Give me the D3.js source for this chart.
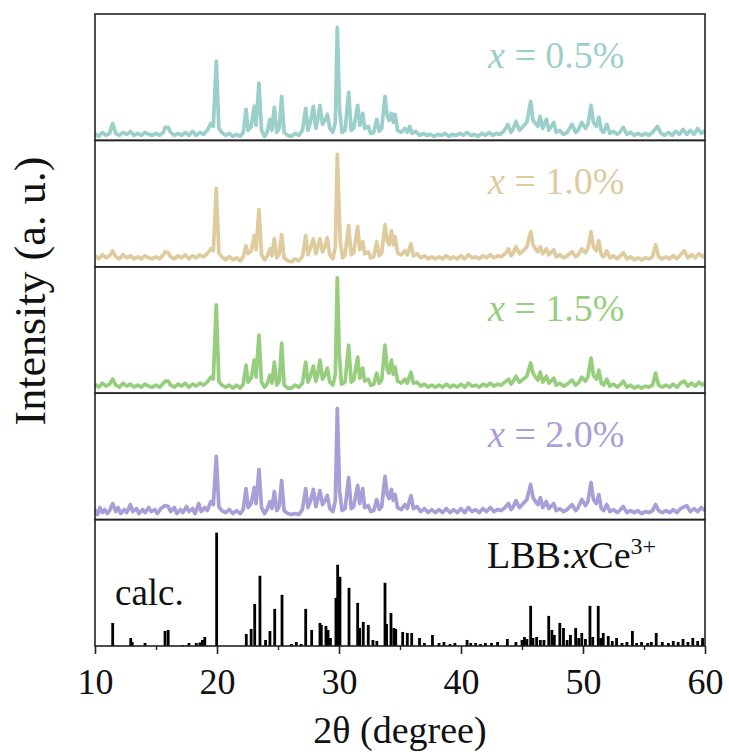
<!DOCTYPE html>
<html><head><meta charset="utf-8">
<script src="https://cdn.jsdelivr.net/npm/d3@7/dist/d3.min.js"></script>
<style>body{margin:0;background:#fff}svg{display:block}</style>
</head><body><div id="chart"></div>
<script>
// ---- DATA (2θ in degrees, intensity in a.u.) ----
const xTicks = [10, 20, 30, 40, 50, 60];
const xMinorTicks = [15, 25, 35, 45, 55];
const seriesLabels = ["0.5%", "1.0%", "1.5%", "2.0%"];
const seriesColors = ["#9bcfca", "#decb9e", "#97ce7e", "#aa9ed8"];

const xrd05 = [[10,7],[10.3,4],[10.6,8],[10.9,5],[11.2,7],[11.45,17],[11.7,7],[12,5],[12.3,8],[12.6,6],[12.9,9],[13.2,5],[13.5,7],[13.8,5],[14.1,8],[14.4,6],[14.7,5],[15.0,7],[15.3,5],[15.6,8],[15.75,13],[16.0,13],[16.2,8],[16.5,5],[16.8,7],[17.1,5],[17.4,8],[17.7,5],[18.0,9],[18.3,5],[18.6,8],[18.9,6],[19.2,10],[19.5,17],[19.7,14],[19.94,79],[20.15,12],[20.4,8],[20.7,5],[21.0,7],[21.3,4],[21.6,6],[21.9,4],[22.15,8],[22.38,31],[22.55,10],[22.8,14],[23.06,34],[23.2,15],[23.44,57],[23.65,10],[23.9,4],[24.1,8],[24.34,21],[24.5,10],[24.7,33],[24.9,8],[25.1,12],[25.3,44],[25.5,8],[25.8,5],[26.1,4],[26.4,7],[26.7,5],[27.0,10],[27.27,32],[27.45,10],[27.65,18],[27.9,34],[28.1,12],[28.25,20],[28.44,35],[28.65,16],[28.85,20],[29.04,26],[29.25,12],[29.5,8],[29.7,18],[29.86,113],[30.05,30],[30.25,8],[30.5,10],[30.79,48],[31.0,10],[31.2,12],[31.53,35],[31.7,15],[31.94,27],[32.1,12],[32.4,14],[32.6,7],[32.85,8],[33.09,21],[33.3,9],[33.5,12],[33.77,44],[33.95,25],[34.1,20],[34.3,27],[34.45,18],[34.6,26],[34.8,10],[35.1,8],[35.4,12],[35.6,8],[35.8,14],[36.0,7],[36.3,9],[36.6,5],[36.9,7],[37.2,5],[37.5,6],[37.8,4],[38.1,6],[38.4,5],[38.7,7],[39.0,4],[39.3,6],[39.6,5],[39.9,7],[40.2,5],[40.5,8],[40.8,5],[41.1,6],[41.4,4],[41.7,7],[42.0,5],[42.3,8],[42.6,5],[42.9,7],[43.2,6],[43.5,9],[43.85,16],[44.1,8],[44.3,12],[44.5,19],[44.8,10],[45.1,14],[45.4,18],[45.71,39],[45.9,20],[46.1,17],[46.3,14],[46.48,24],[46.7,12],[47.0,21],[47.2,10],[47.6,18],[47.8,8],[48.1,10],[48.4,6],[48.7,8],[49.1,16],[49.4,8],[49.6,10],[49.9,18],[50.2,12],[50.4,16],[50.66,35],[50.85,18],[51.1,14],[51.3,23],[51.5,10],[51.7,8],[51.95,16],[52.2,7],[52.5,9],[52.8,6],[53.0,8],[53.3,13],[53.6,6],[53.9,8],[54.2,5],[54.5,7],[54.8,5],[55.1,7],[55.4,5],[55.7,8],[56.1,14],[56.4,7],[56.7,5],[57.0,8],[57.3,5],[57.6,9],[57.9,6],[58.2,11],[58.5,6],[58.8,10],[59.1,6],[59.4,12],[59.7,7],[60,10]];

const xrd10 = [[10,11],[10.3,8],[10.6,12],[10.9,9],[11.2,11],[11.45,16],[11.7,10],[12,8],[12.3,12],[12.6,9],[12.9,11],[13.2,8],[13.5,10],[13.8,8],[14.1,11],[14.4,9],[14.7,8],[15.0,10],[15.3,8],[15.6,12],[15.75,15],[16.0,14],[16.2,10],[16.5,8],[16.8,11],[17.1,9],[17.4,12],[17.7,8],[18.0,11],[18.3,9],[18.6,12],[18.9,10],[19.2,13],[19.5,18],[19.7,16],[19.94,78],[20.15,14],[20.4,10],[20.7,7],[21.0,10],[21.3,7],[21.6,9],[21.9,6],[22.15,10],[22.38,21],[22.55,13],[22.8,16],[23.06,31],[23.2,17],[23.44,57],[23.65,12],[23.9,7],[24.1,10],[24.34,18],[24.5,11],[24.7,28],[24.9,9],[25.1,13],[25.3,32],[25.5,9],[25.8,6],[26.1,5],[26.4,8],[26.7,6],[27.0,10],[27.27,31],[27.45,12],[27.65,18],[27.9,28],[28.1,13],[28.25,19],[28.44,28],[28.65,15],[28.85,20],[29.04,29],[29.25,12],[29.5,8],[29.7,20],[29.86,112],[29.98,68],[30.1,25],[30.3,9],[30.5,12],[30.79,41],[31.0,12],[31.2,14],[31.53,40],[31.7,17],[31.94,25],[32.1,13],[32.4,15],[32.6,9],[32.85,10],[33.09,25],[33.3,11],[33.5,14],[33.77,42],[33.95,26],[34.1,22],[34.3,36],[34.45,22],[34.6,30],[34.8,14],[35.1,12],[35.4,16],[35.6,12],[35.9,23],[36.1,11],[36.4,13],[36.7,9],[37.0,11],[37.3,8],[37.6,10],[37.9,8],[38.2,10],[38.5,8],[38.8,11],[39.1,8],[39.4,10],[39.7,8],[40.0,11],[40.3,8],[40.6,12],[40.9,9],[41.2,10],[41.5,8],[41.8,11],[42.1,9],[42.4,12],[42.7,9],[43.0,11],[43.3,10],[43.6,13],[43.9,18],[44.1,11],[44.3,14],[44.5,20],[44.8,13],[45.1,16],[45.4,20],[45.71,35],[45.9,22],[46.1,18],[46.3,15],[46.5,20],[46.7,13],[47.0,18],[47.2,12],[47.6,17],[47.8,10],[48.1,12],[48.4,9],[48.7,11],[49.1,15],[49.4,10],[49.6,12],[49.9,18],[50.2,14],[50.4,18],[50.66,35],[50.85,20],[51.1,16],[51.3,26],[51.5,12],[51.7,10],[51.95,16],[52.2,9],[52.5,11],[52.8,8],[53.0,10],[53.3,14],[53.6,8],[53.9,10],[54.2,7],[54.5,9],[54.8,7],[55.1,9],[55.4,8],[55.7,10],[55.95,22],[56.2,10],[56.5,8],[56.8,10],[57.1,8],[57.4,11],[57.7,8],[58.0,12],[58.3,16],[58.6,9],[58.9,12],[59.2,9],[59.5,13],[59.8,10],[60,12]];

const xrd15 = [[10,9],[10.3,6],[10.6,10],[10.9,7],[11.2,9],[11.45,14],[11.7,8],[12,6],[12.3,10],[12.6,7],[12.9,9],[13.2,6],[13.5,8],[13.8,6],[14.1,9],[14.4,7],[14.7,6],[15.0,8],[15.3,6],[15.6,10],[15.75,12],[16.0,12],[16.2,8],[16.5,6],[16.8,9],[17.1,7],[17.4,10],[17.7,6],[18.0,9],[18.3,7],[18.6,10],[18.9,8],[19.2,11],[19.5,16],[19.7,14],[19.94,88],[20.15,12],[20.4,8],[20.7,6],[21.0,8],[21.3,5],[21.6,8],[21.9,5],[22.15,9],[22.38,28],[22.55,11],[22.8,15],[23.06,33],[23.2,16],[23.44,58],[23.65,11],[23.9,6],[24.1,9],[24.34,18],[24.5,10],[24.7,31],[24.9,8],[25.1,12],[25.3,50],[25.5,8],[25.8,5],[26.1,5],[26.4,8],[26.7,6],[27.0,10],[27.27,31],[27.45,11],[27.65,17],[27.9,27],[28.1,12],[28.25,18],[28.44,33],[28.65,14],[28.85,18],[29.04,25],[29.25,11],[29.5,8],[29.7,19],[29.86,115],[30.02,40],[30.2,9],[30.5,11],[30.79,48],[31.0,11],[31.2,13],[31.53,36],[31.7,15],[31.94,25],[32.1,12],[32.4,14],[32.6,8],[32.85,9],[33.09,20],[33.3,10],[33.5,13],[33.77,48],[33.95,24],[34.1,20],[34.3,33],[34.45,19],[34.6,26],[34.8,12],[35.1,10],[35.4,14],[35.6,10],[35.9,21],[36.1,10],[36.4,11],[36.7,7],[37.0,9],[37.3,6],[37.6,8],[37.9,6],[38.2,8],[38.5,6],[38.8,9],[39.1,6],[39.4,8],[39.7,6],[40.0,9],[40.3,6],[40.6,10],[40.9,7],[41.2,8],[41.5,6],[41.8,9],[42.1,7],[42.4,10],[42.7,7],[43.0,9],[43.3,8],[43.6,11],[43.9,14],[44.1,9],[44.3,12],[44.5,17],[44.8,11],[45.1,14],[45.4,17],[45.71,30],[45.9,20],[46.1,16],[46.3,13],[46.5,21],[46.7,11],[47.0,17],[47.2,10],[47.6,15],[47.8,8],[48.1,10],[48.4,7],[48.7,9],[49.1,13],[49.4,8],[49.6,10],[49.9,16],[50.2,12],[50.4,16],[50.66,35],[50.85,18],[51.1,14],[51.3,23],[51.5,10],[51.7,8],[51.95,14],[52.2,7],[52.5,9],[52.8,6],[53.0,8],[53.3,12],[53.6,6],[53.9,8],[54.2,5],[54.5,7],[54.8,5],[55.1,7],[55.4,6],[55.7,8],[55.95,20],[56.2,8],[56.5,6],[56.8,8],[57.1,6],[57.4,9],[57.7,6],[58.0,10],[58.3,12],[58.6,7],[58.9,10],[59.2,7],[59.5,11],[59.8,8],[60,10]];

const xrd20 = [[10,10],[10.2,5],[10.4,12],[10.6,7],[10.8,10],[11.0,6],[11.2,9],[11.45,16],[11.7,8],[11.9,12],[12.1,6],[12.4,10],[12.6,7],[12.9,15],[13.1,8],[13.4,11],[13.6,6],[13.9,10],[14.1,7],[14.4,12],[14.6,8],[14.9,10],[15.1,6],[15.4,11],[15.75,14],[16.0,13],[16.2,8],[16.5,12],[16.7,6],[17.0,10],[17.2,7],[17.5,13],[17.7,8],[18.0,11],[18.2,6],[18.5,16],[18.7,8],[19.0,12],[19.2,9],[19.5,18],[19.7,15],[19.94,63],[20.15,13],[20.4,9],[20.7,7],[21.0,10],[21.3,6],[21.6,9],[21.9,6],[22.15,10],[22.38,31],[22.55,12],[22.8,16],[23.06,32],[23.2,16],[23.44,50],[23.65,12],[23.9,6],[24.1,10],[24.34,18],[24.5,11],[24.7,28],[24.9,9],[25.1,13],[25.3,39],[25.5,9],[25.8,6],[26.1,5],[26.4,6],[26.7,5],[27.0,10],[27.27,31],[27.45,12],[27.65,18],[27.9,30],[28.1,13],[28.25,19],[28.44,29],[28.65,15],[28.85,19],[29.04,24],[29.25,11],[29.5,8],[29.7,19],[29.86,111],[30.05,28],[30.25,9],[30.5,11],[30.79,42],[31.0,11],[31.2,13],[31.53,34],[31.7,16],[31.94,31],[32.1,12],[32.4,14],[32.6,8],[32.85,9],[33.09,20],[33.3,10],[33.5,13],[33.77,43],[33.95,25],[34.1,21],[34.3,30],[34.45,19],[34.6,25],[34.8,12],[35.1,10],[35.4,15],[35.6,11],[35.9,24],[36.1,11],[36.4,13],[36.7,8],[37.0,11],[37.3,7],[37.6,10],[37.9,7],[38.2,10],[38.5,7],[38.8,11],[39.1,7],[39.4,10],[39.7,7],[40.0,11],[40.3,7],[40.6,12],[40.9,8],[41.2,10],[41.5,7],[41.8,11],[42.1,8],[42.4,12],[42.7,8],[43.0,10],[43.3,9],[43.6,12],[43.9,16],[44.1,10],[44.3,13],[44.5,19],[44.8,12],[45.1,16],[45.4,20],[45.71,35],[45.9,22],[46.1,18],[46.3,15],[46.5,22],[46.7,12],[47.0,18],[47.2,11],[47.6,16],[47.8,9],[48.1,11],[48.4,8],[48.7,10],[49.1,15],[49.4,9],[49.6,12],[49.9,20],[50.2,14],[50.4,18],[50.66,37],[50.85,20],[51.1,16],[51.3,25],[51.5,11],[51.7,9],[51.95,15],[52.2,8],[52.5,10],[52.8,7],[53.0,9],[53.3,13],[53.6,7],[53.9,9],[54.2,7],[54.5,9],[54.8,6],[55.1,8],[55.4,7],[55.7,9],[55.95,15],[56.2,9],[56.5,7],[56.8,9],[57.1,7],[57.4,10],[57.7,7],[58.0,11],[58.5,14],[58.8,8],[59.1,11],[59.4,8],[59.7,12],[60,9]];

const calcSticks = [[11.45,23],[12.93,8],[13.05,4],[14.1,3],[15.74,15],[16.0,16],[17.2,1],[17.7,3],[18.3,3],[18.6,3.5],[18.8,6],[19.0,9],[19.97,113],[22.4,12],[22.8,17],[23.09,42],[23.52,70],[23.98,6],[24.34,15],[24.73,37],[25.33,51],[26.1,2],[26.5,4],[26.9,2],[27.27,37],[27.76,16],[28.44,23],[28.55,21],[28.93,20],[29.1,16],[29.3,8],[29.75,48],[29.89,81],[30.08,69],[30.82,58],[31.53,43],[31.7,18],[31.99,24],[32.4,21],[32.78,6],[33.1,5],[33.77,63],[33.9,22],[34.26,33],[34.5,18],[34.65,17],[35.22,14],[35.6,13],[35.96,13],[36.6,8],[37.0,3],[37.66,11],[38.2,3],[38.6,4],[39.1,2],[39.5,3],[40.5,6],[40.8,3],[41.2,3],[41.6,2],[42.0,3],[42.5,3],[43.0,4],[43.8,7],[44.5,4],[45.0,6],[45.2,9],[45.4,7],[45.71,40],[45.9,8],[46.2,9],[46.5,6],[46.8,6],[47.19,30],[47.45,16],[47.65,11],[48.1,23],[48.4,18],[48.7,6],[48.97,11],[49.4,18],[49.65,8],[49.9,13],[50.2,7],[50.57,40],[50.8,9],[51.25,40],[51.45,8],[51.66,13],[52.07,10],[52.4,5],[52.75,8],[53.2,3],[53.6,4],[54.05,15],[54.4,3],[54.8,4],[55.3,3],[55.6,4],[56.0,13],[56.5,4],[57.0,3],[57.4,5],[57.8,4],[58.2,7],[58.6,4],[59.0,8],[59.4,5],[59.8,8]];

const seriesData = [xrd05, xrd10, xrd15, xrd20];

// ---- LAYOUT ----
const W = 729, H = 755;
const L = 95, R = 705, T = 14, B = 646;
const nPanels = 5;
const ph = (B - T) / nPanels;
const serif = "'Liberation Serif','Times New Roman',serif";

const svg = d3.select("#chart").append("svg").attr("width", W).attr("height", H);
const x = d3.scaleLinear().domain([10, 60]).range([L, R]);

svg.append("defs").append("clipPath").attr("id", "plotclip")
  .append("rect").attr("x", L).attr("y", T).attr("width", R - L).attr("height", B - T);

function panelY(i) {
  const top = T + i * ph;
  return d3.scaleLinear().domain([0, 126]).range([top + ph, top]);
}

const plot = svg.append("g").attr("clip-path", "url(#plotclip)");

seriesData.forEach((data, i) => {
  const y = panelY(i);
  const line = d3.line().x(d => x(d[0])).y(d => y(d[1]));
  plot.append("path").datum(data)
    .attr("d", line)
    .attr("fill", "none")
    .attr("stroke", seriesColors[i])
    .attr("stroke-width", 3.7)
    .attr("stroke-linejoin", "round");
  const top = T + i * ph;
  const t = svg.append("text")
    .attr("x", 488).attr("y", top + 54)
    .attr("font-family", serif).attr("font-size", 38)
    .attr("fill", seriesColors[i]);
  t.append("tspan").attr("font-style", "italic").text("x");
  t.append("tspan").text(" = " + seriesLabels[i]);
});

// calc sticks
const yc = panelY(4);
plot.selectAll("rect.stick").data(calcSticks).enter().append("rect")
  .attr("class", "stick")
  .attr("x", d => x(d[0]) - 1.4)
  .attr("width", 2.8)
  .attr("y", d => yc(d[1]))
  .attr("height", d => yc(0) - yc(d[1]))
  .attr("fill", "#000");

// calc labels
svg.append("text").attr("x", 115).attr("y", 605)
  .attr("font-family", serif).attr("font-size", 37).attr("fill", "#111").text("calc.");
const lbb = svg.append("text").attr("x", 487).attr("y", 568)
  .attr("font-family", serif).attr("font-size", 38).attr("fill", "#111");
lbb.append("tspan").text("LBB:");
lbb.append("tspan").attr("font-style", "italic").text("x");
lbb.append("tspan").text("Ce");
lbb.append("tspan").attr("font-size", 24).attr("dy", -14).text("3+");

// panel frames
for (let i = 0; i < nPanels; i++) {
  svg.append("rect").attr("x", L).attr("y", T + i * ph)
    .attr("width", R - L).attr("height", ph)
    .attr("fill", "none").attr("stroke", "#222").attr("stroke-width", 1.6);
}

// x axis
const axG = svg.append("g").attr("transform", `translate(0,${B})`)
  .call(d3.axisBottom(x).tickValues(xTicks).tickSize(8).tickPadding(14).tickFormat(d3.format("d")));
axG.select(".domain").remove();
axG.selectAll("line").attr("stroke", "#222").attr("stroke-width", 1.6);
axG.selectAll("text").attr("font-family", serif).attr("font-size", 36).attr("fill", "#111");
const axM = svg.append("g").attr("transform", `translate(0,${B})`)
  .call(d3.axisBottom(x).tickValues(xMinorTicks).tickSize(4).tickFormat(""));
axM.select(".domain").remove();
axM.selectAll("line").attr("stroke", "#222").attr("stroke-width", 1.4);

// axis titles
svg.append("text").attr("x", (L + R) / 2).attr("y", 743)
  .attr("text-anchor", "middle").attr("font-family", serif).attr("font-size", 38).attr("fill", "#111")
  .text("2θ (degree)");
svg.append("text").attr("transform", `translate(45,291) rotate(-90)`)
  .attr("text-anchor", "middle").attr("font-family", serif).attr("font-size", 44).attr("fill", "#111")
  .text("Intensity (a. u.)");
</script></body></html>
